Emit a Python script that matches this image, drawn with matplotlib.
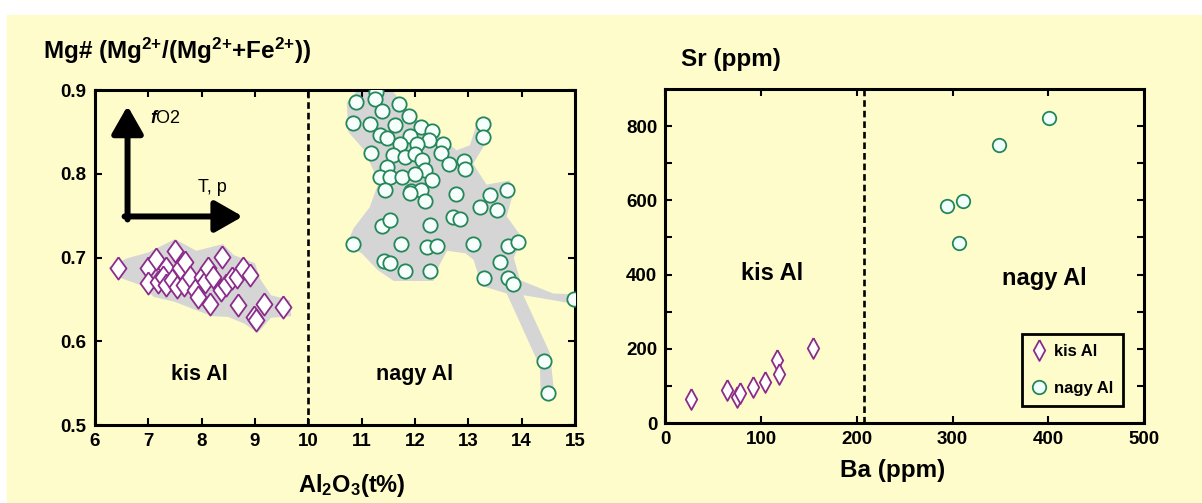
import numpy as np
import matplotlib.pyplot as plt
from matplotlib.patches import Rectangle, Polygon

plt.rcParams['font.family'] = 'Liberation Sans'
plt.rcParams['font.weight'] = 'bold'
plt.rcParams['mathtext.fontset'] = 'custom'
plt.rcParams['mathtext.rm'] = 'Liberation Sans'
plt.rcParams['mathtext.it'] = 'Liberation Sans:italic'
plt.rcParams['mathtext.bf'] = 'Liberation Sans:bold'

# --- data: Mg# vs Al2O3 ---
kis_al2o3 = [6.44, 7.00, 7.14, 7.33, 7.50, 7.59, 7.69, 8.39, 7.00, 7.19, 7.28,
             7.34, 7.44, 7.53, 7.66, 7.78, 7.88, 8.00, 8.06, 8.12, 8.22, 7.94,
             8.16, 8.36, 8.45, 8.56, 8.66, 8.78, 8.91, 8.69, 9.16, 8.99, 9.02,
             9.53]
kis_mg = [0.687, 0.687, 0.698, 0.687, 0.708, 0.687, 0.695, 0.701, 0.669, 0.671,
          0.677, 0.667, 0.673, 0.665, 0.667, 0.677, 0.661, 0.677, 0.671, 0.687,
          0.677, 0.653, 0.645, 0.661, 0.667, 0.675, 0.677, 0.687, 0.679, 0.643,
          0.645, 0.629, 0.625, 0.641]

nagy_al2o3 = [11.27, 11.25, 10.89, 10.84, 11.16, 11.39, 11.70, 11.88, 11.63,
              12.11, 12.31, 11.34, 11.47, 11.91, 12.27, 12.53, 12.03, 11.72,
              11.18, 11.59, 11.82, 12.00, 12.49, 12.14, 12.63, 12.91, 12.94,
              12.19, 11.47, 11.34, 11.53, 11.75, 12.00, 12.31, 11.44, 11.93,
              12.11, 11.91, 12.19, 13.28, 13.28, 12.77, 13.41, 13.72, 13.22,
              13.54, 12.72, 12.84, 12.28, 11.38, 11.54, 10.84, 11.74, 12.22,
              12.41, 13.09, 13.75, 13.94, 13.59, 11.42, 11.53, 11.81, 12.29,
              13.30, 13.75, 13.84, 14.98, 14.42, 14.49]
nagy_mg = [0.898, 0.889, 0.886, 0.861, 0.859, 0.875, 0.883, 0.869, 0.858, 0.856,
           0.851, 0.846, 0.843, 0.845, 0.840, 0.835, 0.835, 0.836, 0.825, 0.822,
           0.820, 0.824, 0.825, 0.816, 0.812, 0.815, 0.806, 0.805, 0.808, 0.796,
           0.796, 0.796, 0.800, 0.793, 0.781, 0.779, 0.781, 0.777, 0.767, 0.860,
           0.844, 0.776, 0.775, 0.781, 0.760, 0.757, 0.748, 0.746, 0.739, 0.738,
           0.745, 0.716, 0.716, 0.713, 0.714, 0.716, 0.714, 0.718, 0.695, 0.696,
           0.693, 0.684, 0.684, 0.676, 0.675, 0.668, 0.650, 0.576, 0.538]

# grey envelopes around the two groups
kis_env_x = [6.25, 6.6, 7.0, 7.5, 7.9, 8.4, 8.6, 9.0, 9.1, 9.3, 9.65, 9.68,
             9.3, 9.05, 8.8, 8.5, 8.2, 7.9, 7.5, 7.1, 6.9, 6.5]
kis_env_y = [0.688, 0.699, 0.706, 0.722, 0.708, 0.716, 0.703, 0.693, 0.674,
             0.655, 0.649, 0.630, 0.628, 0.610, 0.621, 0.629, 0.630, 0.637,
             0.647, 0.653, 0.666, 0.675]
nagy_env_x = [11.0, 11.5, 11.97, 12.47, 12.78, 13.03, 13.19, 13.42, 13.38,
              13.09, 13.34, 13.78, 13.82, 13.72, 14.03, 13.85, 13.97, 14.59,
              15.03, 15.03, 14.59, 14.03, 14.53, 14.62, 14.36, 14.34, 13.72,
              13.25, 13.10, 12.95, 12.60, 12.45, 12.35, 12.00, 11.60, 11.30,
              11.00, 10.72, 10.85, 11.15, 11.32, 11.05, 10.75, 10.72]
nagy_env_y = [0.905, 0.905, 0.868, 0.844, 0.828, 0.834, 0.866, 0.866, 0.842,
              0.812, 0.787, 0.792, 0.772, 0.749, 0.722, 0.700, 0.673, 0.657,
              0.656, 0.644, 0.649, 0.655, 0.586, 0.532, 0.532, 0.570, 0.657,
              0.666, 0.697, 0.705, 0.708, 0.690, 0.672, 0.672, 0.672, 0.685,
              0.705, 0.716, 0.735, 0.760, 0.790, 0.828, 0.850, 0.885]

# --- data: Sr vs Ba ---
kis_ba = [27, 64, 75, 78, 91, 104, 116, 119, 154]
kis_sr = [65, 89, 71, 80, 98, 111, 169, 132, 203]
nagy_ba = [294, 311, 307, 348, 401]
nagy_sr = [584, 599, 485, 749, 822]

al_split = 10
ba_split = 207

left_xticks = list(range(6, 16))
left_yticks = [0.5, 0.6, 0.7, 0.8, 0.9]
right_xticks = [0, 100, 200, 300, 400, 500]
right_yticks = [0, 200, 400, 600, 800]

bg = '#FFFCCB'
purple = '#8B2C8B'
green = '#23875A'
grey = '#D5D5D5'

diamond_l = [(0, 1), (0.72, 0), (0, -1), (-0.72, 0), (0, 1)]
diamond_r = [(0, 1), (0.55, 0), (0, -1), (-0.55, 0), (0, 1)]

fig = plt.figure()
fig.set_size_inches(12.02, 5.03)
fig.dpi = 100
fig.patches.append(Rectangle((7 / 1202, 0), 1, 1 - 15 / 503,
                             transform=fig.transFigure, color=bg, zorder=-5))


def style_axes(axes):
    axes.set_facecolor('none')
    for s in axes.spines.values():
        s.set_linewidth(2.2)
    axes.tick_params(which='both', direction='in', top=True, right=True,
                     length=5, width=1.5, labelsize=13.5, pad=6)


# left panel
ax1 = fig.add_axes([95 / 1202, 1 - 425 / 503, 480 / 1202, 335 / 503])
ax1.set_xlim(6, 15)
ax1.set_ylim(0.5, 0.9)
ax1.set_xticks(left_xticks, [str(v) for v in left_xticks], fontweight='bold')
ax1.set_yticks(left_yticks, ['%.1f' % v for v in left_yticks],
               fontweight='bold')

ax1.add_patch(Polygon(np.column_stack([kis_env_x, kis_env_y]), closed=True,
                      facecolor=grey, edgecolor='none', zorder=1))
ax1.add_patch(Polygon(np.column_stack([nagy_env_x, nagy_env_y]), closed=True,
                      facecolor=grey, edgecolor='none', zorder=1))
ax1.plot(kis_al2o3, kis_mg, ls='none', marker=diamond_l, ms=16, mfc='white',
         mec=purple, mew=1.3, zorder=3)
ax1.plot(nagy_al2o3, nagy_mg, ls='none', marker='o', ms=10.3, mfc='#F6FFFB',
         mec=green, mew=1.3, zorder=3)
ax1.axvline(al_split, color='black', lw=1.9, ls=(0, (2.5, 1.5)), zorder=2)

# fO2 / T,p arrows
corner_x, corner_y = 6.61, 0.749
arrow_style = '-|>,head_length=1.05,head_width=0.6'
ax1.annotate('', xy=(corner_x, 0.881), xytext=(corner_x, corner_y - 0.0036),
             arrowprops=dict(arrowstyle=arrow_style, lw=4.3, color='black',
                             mutation_scale=16, shrinkA=0, shrinkB=0))
ax1.annotate('', xy=(8.77, corner_y), xytext=(corner_x - 0.056, corner_y),
             arrowprops=dict(arrowstyle=arrow_style, lw=4.3, color='black',
                             mutation_scale=16, shrinkA=0, shrinkB=0))
ax1.text(7.03, 0.866, r'$\mathit{f}$O2', fontsize=13, fontweight='normal',
         va='center', ha='left')
ax1.text(7.93, 0.783, 'T, p', fontsize=13, fontweight='normal',
         va='center', ha='left')
ax1.text(7.95, 0.56, 'kis Al', fontsize=15.5, ha='center', va='center')
ax1.text(12.0, 0.56, 'nagy Al', fontsize=15.5, ha='center', va='center')
style_axes(ax1)

fig.text(43 / 1202, 1 - 59 / 503,
         r'Mg# (Mg$^{\mathbf{2}\mathbf{+}}$/(Mg$^{\mathbf{2}\mathbf{+}}$'
         r'+Fe$^{\mathbf{2}\mathbf{+}}$))',
         fontsize=17.5, ha='left', va='baseline')
fig.text(352 / 1202, 1 - 492 / 503, r'Al$_{\mathbf{2}}$O$_{\mathbf{3}}$(t%)',
         fontsize=17, ha='center', va='baseline')

# right panel
ax2 = fig.add_axes([665.5 / 1202, 1 - 423 / 503, 478.5 / 1202, 334 / 503])
ax2.set_xlim(0, 500)
ax2.set_ylim(0, 900)
ax2.set_xticks(right_xticks, [str(v) for v in right_xticks],
               fontweight='bold')
ax2.set_yticks(right_yticks, [str(v) for v in right_yticks],
               fontweight='bold')
ax2.set_yticks(np.arange(100, 900, 200), minor=True)

ax2.plot(kis_ba, kis_sr, ls='none', marker=diamond_r, ms=15, mfc='white',
         mec=purple, mew=1.3, zorder=3, label='kis Al')
ax2.plot(nagy_ba, nagy_sr, ls='none', marker='o', ms=9.7, mfc='#F0FFFC',
         mec=green, mew=1.3, zorder=3, label='nagy Al')
ax2.axvline(ba_split, color='black', lw=1.9, ls=(0, (2.5, 1.5)), zorder=2)
ax2.text(111, 403, 'kis Al', fontsize=17, ha='center', va='center')
ax2.text(396, 390, 'nagy Al', fontsize=17, ha='center', va='center')

leg = ax2.legend(loc='lower left', bbox_to_anchor=(0.7457, 0.0516),
                 borderaxespad=0, frameon=True, fancybox=False,
                 borderpad=0.6, handlelength=0.8, handletextpad=0.5,
                 labelspacing=1.3, prop={'weight': 'bold', 'size': 12})
leg.get_frame().set_edgecolor('black')
leg.get_frame().set_linewidth(2)
leg.get_frame().set_facecolor(bg)
leg.get_frame().set_alpha(1)
style_axes(ax2)

fig.text(681 / 1202, 1 - 66 / 503, 'Sr (ppm)', fontsize=17.5,
         ha='left', va='baseline')
fig.text(893 / 1202, 1 - 477 / 503, 'Ba (ppm)', fontsize=17.5,
         ha='center', va='baseline')

plt.savefig('out.png', dpi=100)
plt.close(fig)
